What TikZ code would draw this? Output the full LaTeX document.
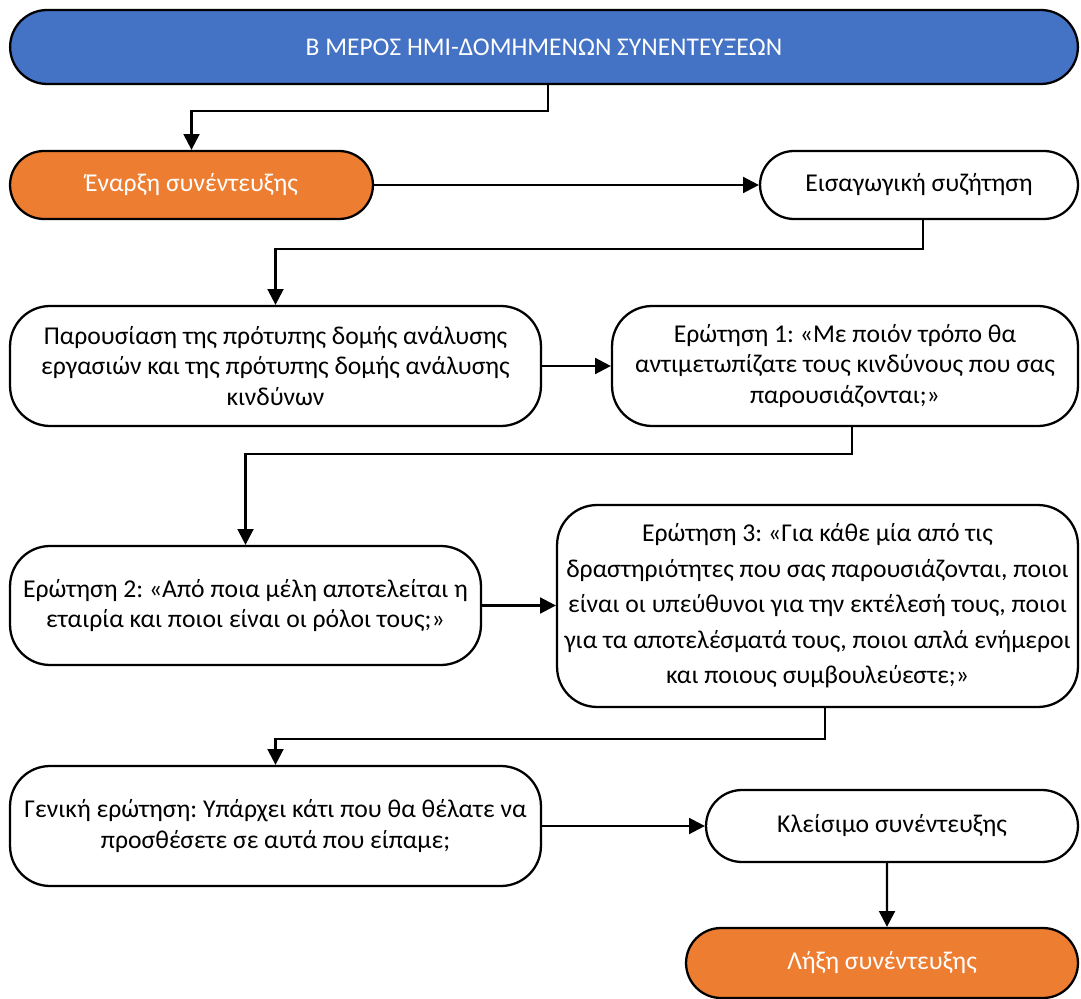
\documentclass[tikz,border=0pt]{standalone}
\usepackage{fontspec}
\setmainfont{Carlito}
\usetikzlibrary{arrows.meta}
\definecolor{hdrblue}{HTML}{4472C4}
\definecolor{stoporange}{HTML}{ED7D31}
\tikzset{
  stage/.style={draw=black, line width=1.3pt, rounded corners=0.8cm, align=center,
    font=\fontsize{14.6}{17.6}\selectfont, inner sep=0pt, minimum height=2.4cm},
  shortstage/.style={stage, rounded corners=0.68cm, minimum height=1.36cm},
  endstage/.style={shortstage, fill=stoporange, text=white},
  flow/.style={line width=1.4pt, -{Triangle[length=9pt,width=9pt]}}
}
\frenchspacing
\begin{document}
\begin{tikzpicture}[x=0.02cm,y=-0.02cm]
\useasboundingbox (0,0) rectangle (1081,999);

% header
\node[stage, fill=hdrblue, text=white, rounded corners=0.74cm,
  minimum width=21.36cm, minimum height=1.48cm, font=\fontsize{14.5}{17}\selectfont] (title) at (544,47)
{Β ΜΕΡΟΣ ΗΜΙ-ΔΟΜΗΜΕΝΩΝ ΣΥΝΕΝΤΕΥΞΕΩΝ};

% start of interview
\node[endstage, minimum width=7.26cm] (start) at (191.5,185) {Έναρξη συνέντευξης};
\node[shortstage, minimum width=6.36cm] (intro) at (919,185) {Εισαγωγική συζήτηση};

% presentation and first question
\node[stage, minimum width=10.62cm] (present) at (275.5,366)
{Παρουσίαση της πρότυπης δομής ανάλυσης\\εργασιών και της πρότυπης δομής ανάλυσης\\κινδύνων};
\node[stage, minimum width=9.32cm] (q1) at (845,366)
{Ερώτηση 1: «Με ποιόν τρόπο θα\\αντιμετωπίζατε τους κινδύνους που σας\\παρουσιάζονται;»};

% questions 2 and 3
\node[stage, minimum width=9.42cm, minimum height=2.38cm] (q2) at (245.5,605.5)
{Ερώτηση 2: «Από ποια μέλη αποτελείται η\\εταιρία και ποιοι είναι οι ρόλοι τους;»};
\node[stage, minimum width=10.42cm, minimum height=4.04cm,
  font=\fontsize{14.6}{20.2}\selectfont] (q3) at (817.5,606)
{Ερώτηση 3: «Για κάθε μία από τις\\δραστηριότητες που σας παρουσιάζονται, ποιοι\\είναι οι υπεύθυνοι για την εκτέλεσή τους, ποιοι\\για τα αποτελέσματά τους, ποιοι απλά ενήμεροι\\και ποιους συμβουλεύεστε;»};

% closing
\node[stage, minimum width=10.62cm] (general) at (275.5,826)
{Γενική ερώτηση: Υπάρχει κάτι που θα θέλατε να\\προσθέσετε σε αυτά που είπαμε;};
\node[shortstage, minimum width=7.44cm, minimum height=1.44cm, rounded corners=0.72cm] (close) at (892,826)
{Κλείσιμο συνέντευξης};
\node[endstage, minimum width=7.84cm, minimum height=1.4cm, rounded corners=0.7cm] (end) at (882,963)
{Λήξη συνέντευξης};

% connectors
\draw[flow] ([xshift=0.08cm]title.south) -- ++(0,26) -| (start.north);
\draw[flow] (start.east) -- (intro.west);
\draw[flow] ([xshift=0.08cm]intro.south) -- ++(0,29) -| (present.north);
\draw[flow] (present.east) -- (q1.west);
\draw[flow] ([xshift=0.14cm]q1.south) -- ++(0,27) -| (q2.north);
\draw[flow] (q2.east) -- (q2.east -| q3.west);
\draw[flow] ([xshift=0.15cm]q3.south) -- ++(0,31) -| (general.north);
\draw[flow] (general.east) -- (close.west);
\draw[flow] ([xshift=-0.1cm]close.south) -- ([xshift=0.1cm]end.north);

\end{tikzpicture}
\end{document}
